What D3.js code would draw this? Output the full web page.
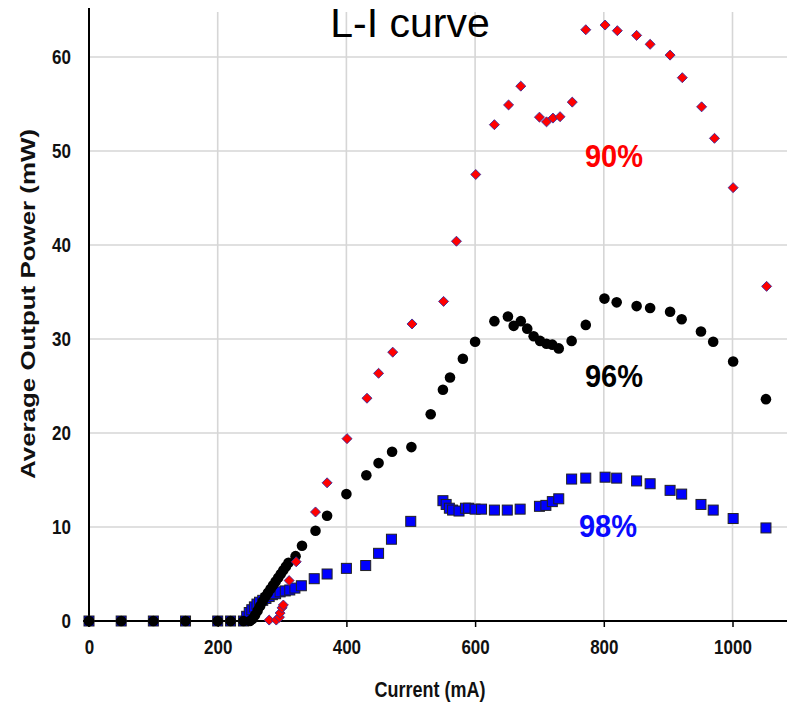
<!DOCTYPE html>
<html>
<head>
<meta charset="utf-8">
<script src="https://cdn.jsdelivr.net/npm/d3@7"></script>
<style>
html,body{margin:0;padding:0;background:#fff;overflow:hidden;}
svg{display:block;}
text{font-family:"Liberation Sans",Arial,sans-serif;}
</style>
</head>
<body>
<div id="chart"></div>
<script>
// ---- data ----
const xTicks = [0, 200, 400, 600, 800, 1000];
const yTicks = [0, 10, 20, 30, 40, 50, 60];

const current90 = [280, 291, 296, 297, 300, 302, 311, 322, 352, 370, 401, 432, 450, 472, 502, 551, 571, 601, 630, 652, 671, 700, 711, 721, 732, 751, 772, 802, 821, 851, 872, 903, 922, 952, 972, 1001, 1053];
const power90   = [0.1, 0.1, 0.4, 0.85, 1.4, 1.7, 4.3, 6.3, 11.6, 14.7, 19.4, 23.7, 26.35, 28.6, 31.6, 34.0, 40.4, 47.5, 52.8, 54.9, 56.9, 53.6, 53.1, 53.5, 53.65, 55.2, 62.9, 63.4, 62.8, 62.3, 61.35, 60.2, 57.8, 54.7, 51.35, 46.1, 35.6];

const current96 = [0, 50, 100, 150, 200, 220, 240, 250, 254, 258, 262, 266, 270, 274, 278, 282, 286, 290, 294, 298, 302, 306, 310, 321, 331, 352, 370, 400, 431, 450, 471, 501, 531, 550, 561, 581, 600, 630, 651, 660, 671, 681, 691, 701, 711, 720, 730, 750, 772, 801, 820, 851, 872, 903, 921, 951, 970, 1001, 1052];
const power96   = [0, 0, 0, 0, 0, 0, 0, 0, 0.2, 0.6, 1.1, 1.6, 2.1, 2.6, 3.0, 3.4, 3.8, 4.2, 4.6, 5.0, 5.4, 5.8, 6.2, 6.9, 8.0, 9.6, 11.2, 13.5, 15.5, 16.8, 18.0, 18.5, 22.0, 24.6, 25.9, 27.9, 29.7, 31.9, 32.4, 31.4, 31.9, 31.1, 30.3, 29.8, 29.5, 29.4, 29.0, 29.8, 31.5, 34.3, 33.9, 33.5, 33.3, 32.9, 32.1, 30.8, 29.7, 27.6, 23.6];

const current98 = [0, 50, 100, 150, 200, 220, 240, 245, 249, 253, 257, 261, 265, 270, 275, 280, 285, 290, 297, 305, 312, 320, 330, 350, 370, 400, 430, 450, 470, 500, 550, 555, 560, 565, 575, 585, 590, 600, 610, 630, 650, 670, 700, 710, 720, 730, 750, 772, 802, 820, 851, 872, 903, 921, 951, 970, 1001, 1052];
const power98   = [0, 0, 0, 0, 0, 0, 0, 0.5, 0.9, 1.2, 1.5, 1.8, 2.0, 2.2, 2.4, 2.6, 2.8, 2.9, 3.1, 3.2, 3.3, 3.5, 3.75, 4.5, 5.0, 5.6, 5.9, 7.2, 8.7, 10.6, 12.8, 12.4, 12.0, 11.8, 11.7, 12.0, 12.0, 11.9, 11.9, 11.8, 11.8, 11.9, 12.2, 12.3, 12.7, 13.0, 15.1, 15.2, 15.3, 15.2, 14.9, 14.6, 13.9, 13.5, 12.4, 11.8, 10.9, 9.9];

const labels = [
  {text: "90%", x: 614, y: 49.5, color: "#ff0000"},
  {text: "96%", x: 614, y: 26.1, color: "#000000"},
  {text: "98%", x: 608, y: 10.1, color: "#0a0aff"}
];

// ---- chart ----
const W = 787, H = 702;
const FONT = "'Liberation Sans', Arial, sans-serif";
const svg = d3.select("#chart").append("svg").attr("width", W).attr("height", H);

const x = d3.scaleLinear().domain([0, 1100]).range([89, 89 + 1100 * 0.6435]);
const y = d3.scaleLinear().domain([0, 65]).range([621, 621 - 65 * 9.4]);

// grid
svg.append("g").selectAll("line.h").data(yTicks.slice(1)).join("line")
  .attr("x1", x(0)).attr("x2", W).attr("y1", d => y(d)).attr("y2", d => y(d))
  .attr("stroke", "#d6d6d6").attr("stroke-width", 1.6);
svg.append("g").selectAll("line.v").data(xTicks.slice(1)).join("line")
  .attr("x1", d => x(d)).attr("x2", d => x(d)).attr("y1", y(64.8)).attr("y2", y(0))
  .attr("stroke", "#d6d6d6").attr("stroke-width", 1.6);

// x axis
const xAxis = d3.axisBottom(x).tickValues(xTicks).tickSize(6).tickSizeOuter(0).tickFormat(d3.format("d"));
const gx = svg.append("g").attr("transform", `translate(0,${y(0)})`).call(xAxis);
gx.select(".domain").attr("d", `M83,0H${W}`).attr("stroke", "#000").attr("stroke-width", 2);
gx.selectAll(".tick line").attr("stroke", "#000").attr("stroke-width", 1.5);
gx.selectAll(".tick text").attr("y", 19 / 1.2).attr("dy", "0.71em").attr("transform", "scale(1,1.2)")
  .style("font-size", "17px").style("font-weight", "bold").attr("fill", "#111")
  .style("font-family", FONT);

// y axis
const yAxis = d3.axisLeft(y).tickValues(yTicks).tickSize(0).tickSizeOuter(0);
const gy = svg.append("g").attr("transform", `translate(${x(0)},0)`).call(yAxis);
gy.select(".domain").attr("d", `M0,${y(65.2)}V${y(0) + 6}`).attr("stroke", "#000").attr("stroke-width", 2);
gy.selectAll(".tick text").attr("x", -18).attr("transform", "scale(1,1.2)")
  .style("font-size", "17px").style("font-weight", "bold").attr("fill", "#111")
  .style("font-family", FONT);

// titles
svg.append("text").attr("x", 410).attr("y", 37).attr("text-anchor", "middle")
  .style("font-size", "41px").attr("fill", "#000").text("L-I curve");
svg.append("text").attr("transform", "translate(430,697) scale(1,1.2)").attr("text-anchor", "middle")
  .style("font-size", "18px").style("font-weight", "bold").attr("fill", "#111").text("Current (mA)");
svg.append("text").attr("transform", "translate(35,304) rotate(-90)").attr("text-anchor", "middle")
  .attr("textLength", 350).attr("lengthAdjust", "spacingAndGlyphs")
  .style("font-size", "20px").style("font-weight", "bold").attr("fill", "#111").text("Average Output Power (mW)");

// series
const d98 = current98.map((c, i) => ({c, p: power98[i]}));
const d96 = current96.map((c, i) => ({c, p: power96[i]}));
const d90 = current90.map((c, i) => ({c, p: power90[i]}));

svg.append("g").selectAll("rect").data(d98).join("rect")
  .attr("x", d => x(d.c) - 5).attr("y", d => y(d.p) - 5).attr("width", 10).attr("height", 10)
  .attr("fill", "#0000ff").attr("stroke", "#222").attr("stroke-width", 1);

svg.append("g").selectAll("circle").data(d96).join("circle")
  .attr("cx", d => x(d.c)).attr("cy", d => y(d.p)).attr("r", 5.3).attr("fill", "#000");

const diamond = d3.symbol().type(d3.symbolDiamond2).size(64);
svg.append("g").selectAll("path").data(d90).join("path")
  .attr("transform", d => `translate(${x(d.c)},${y(d.p)})`).attr("d", diamond)
  .attr("fill", "#ff0000").attr("stroke", "#3a2a9a").attr("stroke-width", 0.9);

// annotations
svg.append("g").selectAll("text").data(labels).join("text")
  .attr("transform", d => `translate(${d.x},${y(d.y)}) scale(1,1.1)`).attr("text-anchor", "middle").attr("dy", "0.35em")
  .style("font-size", "29px").style("font-weight", "bold").attr("fill", d => d.color).text(d => d.text);
</script>
</body>
</html>
